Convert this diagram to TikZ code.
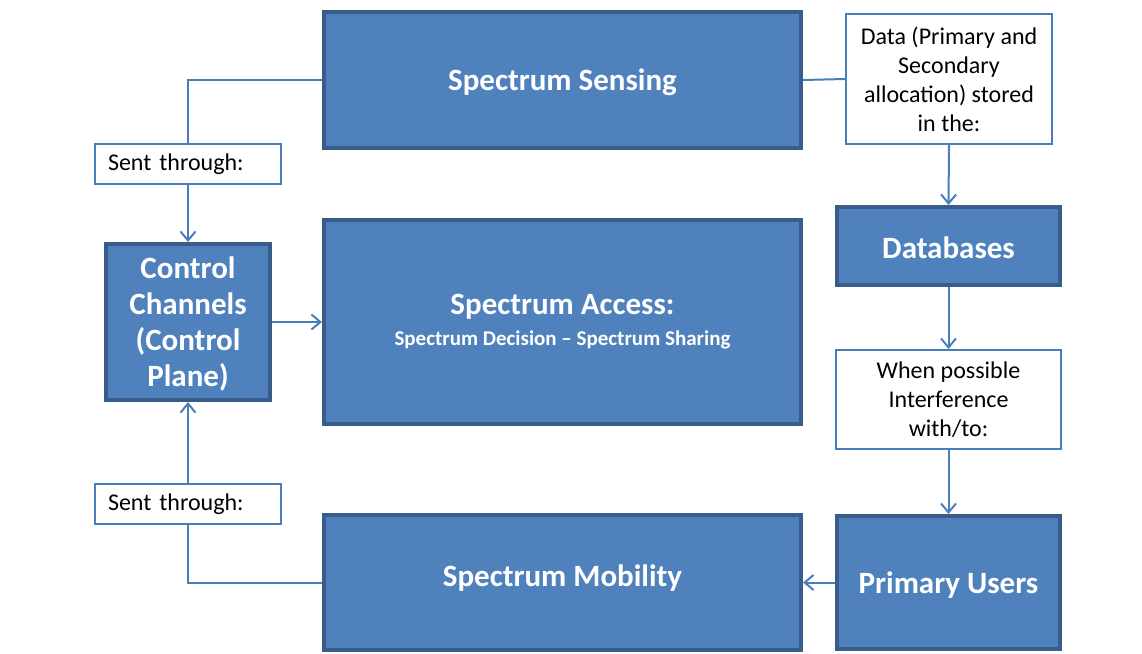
\documentclass[tikz,border=0pt]{standalone}
\usepackage{fontspec}
\setmainfont{Carlito}
\usetikzlibrary{arrows.meta}
\definecolor{boxfill}{HTML}{4F81BD}
\definecolor{boxline}{HTML}{385D8A}
\definecolor{thinline}{HTML}{4A7EBB}
\tikzset{
  bigbox/.style={draw=boxline, line width=4pt, fill=boxfill, text=white, font=\bfseries\fontsize{31}{36}\selectfont, align=center, inner sep=0pt},
  bigtext/.style={text=white, font=\bfseries\fontsize{31}{36}\selectfont, align=center, inner sep=0pt},
  notebox/.style={draw=thinline, line width=2pt, fill=white, text=black, font=\fontsize{24}{29}\selectfont, align=center, inner sep=0pt},
  link/.style={draw=thinline, line width=2pt},
  arr/.style={link, -{Straight Barb[length=9pt,width=15pt,line width=2pt]}},
}
\begin{document}
\begin{tikzpicture}[x=1pt,y=-1pt]
\useasboundingbox (0,0) rectangle (1142,653);
% big boxes
\node[bigbox, minimum width=477pt, minimum height=136pt] (sens) at (562.5,80) {};
\node[bigtext] (senst) at (562.5,82) {Spectrum Sensing};
\node[bigbox, minimum width=477pt, minimum height=204pt] (acc) at (562.5,322) {};
\node[bigtext] (acct) at (562.5,322) {Spectrum Access:\\[-5pt]{\fontsize{21}{24}\selectfont Spectrum Decision – Spectrum Sharing}};
\node[bigbox, minimum width=477pt, minimum height=135pt] (mob) at (562.5,582.5) {};
\node[bigtext] (mobt) at (562.5,578) {Spectrum Mobility};
\node[bigbox, minimum width=164pt, minimum height=156pt] (ctrl) at (188,322) {};
\node[bigtext] (ctrlt) at (188,324) {Control\\Channels\\(Control\\Plane)};
\node[bigbox, minimum width=223pt, minimum height=78pt] (db) at (948.5,246) {};
\node[bigtext] (dbt) at (948.5,248) {Databases};
\node[bigbox, minimum width=223pt, minimum height=133pt] (pu) at (948.5,582.5) {};
\node[bigtext] (put) at (948.5,585) {Primary Users};
% note boxes
\node[notebox, minimum width=206pt, minimum height=130pt] (data) at (949,79) {Data (Primary and\\Secondary\\allocation) stored\\in the:};
\node[notebox, minimum width=225pt, minimum height=99pt] (when) at (948.5,399.5) {When possible\\Interference\\with/to:};
\node[notebox, minimum width=186pt, minimum height=40pt, text width=160pt, align=left, inner xsep=13pt] (sent1) at (188,164) {Sent through:};
\node[notebox, minimum width=186pt, minimum height=40pt, text width=160pt, align=left, inner xsep=13pt] (sent2) at (188,504) {Sent through:};
% connectors
\draw[link] (sens.west) -| (sent1.north);
\draw[arr] (sent1.south) -- (ctrl.north);
\draw[link] (sens.east) -- (data.west);
\draw[arr] (data.south) -- (db.north);
\draw[arr] (db.south) -- (when.north);
\draw[arr] (when.south) -- (pu.north);
\draw[arr] (pu.west) -- (mob.east);
\draw[link] (mob.west) -| (sent2.south);
\draw[arr] (sent2.north) -- (ctrl.south);
\draw[arr] (ctrl.east) -- (acc.west);
\end{tikzpicture}
\end{document}
